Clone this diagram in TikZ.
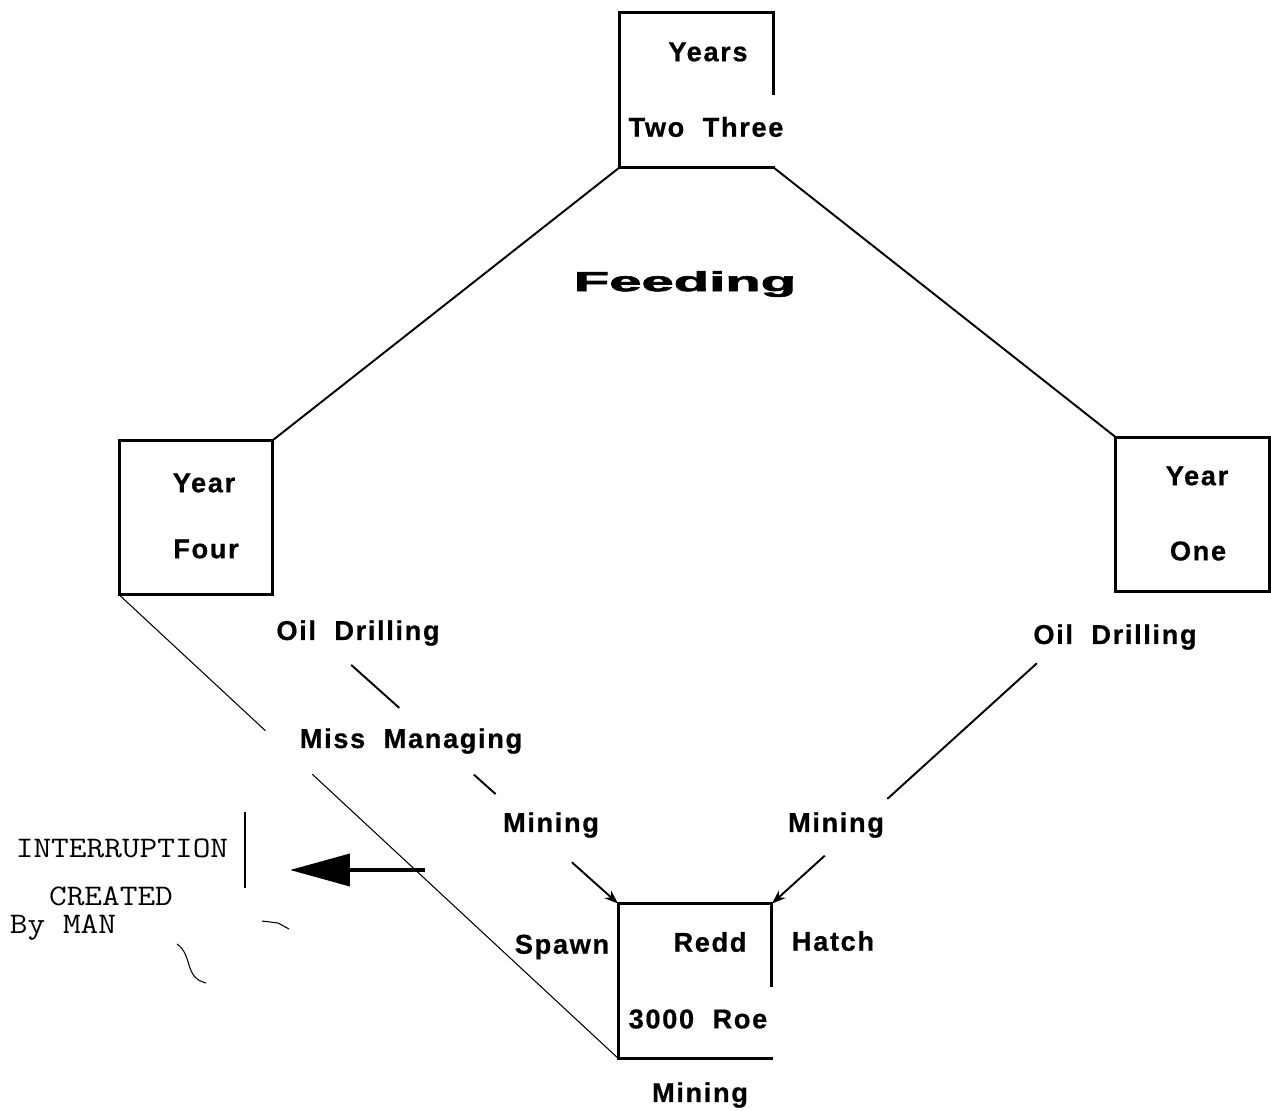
\documentclass[tikz,border=0pt]{standalone}
\usepackage{fontspec}
\usepackage{graphicx}
\newfontfamily\lblfont{Liberation Sans}[LetterSpace=6,WordSpace=2,BoldFeatures={FakeBold=0.6}]
\newfontfamily\feedfont{Liberation Sans}[BoldFeatures={FakeBold=2}]
\usetikzlibrary{calc}
\usetikzlibrary{arrows.meta}

\begin{document}
\begin{tikzpicture}[x=0.02cm,y=-0.02cm,
  yrbox/.style={rectangle,minimum width=3.06cm,minimum height=3.08cm,inner sep=0pt},
  lbl/.style={font=\lblfont\bfseries\fontsize{15.5}{18}\selectfont,inner sep=0pt},
  ttlbl/.style={font=\ttfamily\fontsize{17}{19}\selectfont,inner sep=0pt},
  boxline/.style={line width=1.6pt,line cap=rect},
  conn/.style={line width=1.1pt},
  thinconn/.style={line width=0.6pt}]
\useasboundingbox (0,0) rectangle (1271,1111);

% Life stage boxes
\node[yrbox] (top) at (696.5,90) {};
\node[yrbox] (four) at (196,517.5) {};
\node[yrbox] (one) at (1192.5,514.5) {};
\node[yrbox] (redd) at (695,981) {};

\draw[boxline] (four.south west) rectangle (four.north east);
\draw[boxline] (one.south west) rectangle (one.north east);
\draw[boxline] ($(top.north east)+(0,81)$) -- (top.north east) -- (top.north west)
  -- (top.south west) -- (top.south east);
\draw[boxline] ($(redd.north east)+(0,82)$) -- (redd.north east) -- (redd.north west)
  -- (redd.south west) -- (redd.south east);

% Box texts
\node[lbl] (yrs) at (708,52) {Years};
\node[lbl] (twothree) at (706,127) {Two Three};
\node[lbl] (yr4) at (204,483) {Year};
\node[lbl] (four-t) at (206,549) {Four};
\node[lbl] (yr1) at (1197,476) {Year};
\node[lbl] (one-t) at (1198,551) {One};
\node[lbl] (redd-t) at (710,942) {Redd};
\node[lbl] (roe) at (698,1019) {3000 Roe};

% Other labels
\node[font=\feedfont\bfseries\fontsize{15}{18}\selectfont,inner sep=0pt] (feed) at (685,284) {\scalebox{2.2}[1.05]{Feeding}};
\node[lbl] (hatch) at (833,941) {Hatch};
\node[lbl] (spawn) at (562,947) {Spawn};
\node[lbl] (mine-b) at (700,1095) {Mining};
\node[lbl] (oil-l) at (358,633) {Oil Drilling};
\node[lbl] (oil-r) at (1115,637) {Oil Drilling};
\node[lbl] (miss) at (411,741) {Miss Managing};
\node[lbl] (mine-l) at (551,825) {Mining};
\node[lbl] (mine-r) at (836,825) {Mining};

% Cycle lines
\draw[conn] (top.south west) -- (four.north east);
\draw[conn] (top.south east) -- (one.north west);
\draw[thinconn] (four.south west) -- ($(four.south west)!0.293!(redd.south west)$)
  ($(four.south west)!0.387!(redd.south west)$) -- (redd.south west);

% Broken lines into the redd
\foreach \a/\b in {0.227/0.366, 0.582/0.645} {
    \draw[conn] ($(four.south east)!\a!(redd.north west)$) -- ($(four.south east)!\b!(redd.north west)$);
}
\draw[conn,-{Stealth[length=0.28cm,width=0.2cm]}] ($(four.south east)!0.866!(redd.north west)$) -- (redd.north west);
\draw[conn] ($(one.south west)!0.229!(redd.north east)$) -- ($(one.south west)!0.664!(redd.north east)$);
\draw[conn,-{Stealth[length=0.28cm,width=0.2cm]}] ($(one.south west)!0.846!(redd.north east)$) -- (redd.north east);

% Interruption note
\node[ttlbl] (intr) at (122,848) {\scalebox{1.15}[1]{INTERRUPTION}};
\node[ttlbl] (created) at (111,896) {\scalebox{1.15}[1]{CREATED}};
\node[ttlbl] (byman) at (63,928) {\scalebox{1.15}[1]{By MAN}};
\coordinate (arrstart) at (425,870);
\coordinate (arrend) at (290,870);
\draw[line width=2.2pt,-{Triangle[length=1.2cm,width=0.64cm]}] (arrstart) -- (arrend);
\coordinate (bartop) at (245,812);
\coordinate (barbot) at (245,888);
\draw[thinconn] (bartop) -- (barbot);
\draw[thinconn] (262,921) -- (278,923) -- (289,929);
\draw[thinconn] (177,944) .. controls (193,955) and (184,978) .. (206,983);
\end{tikzpicture}
\end{document}
